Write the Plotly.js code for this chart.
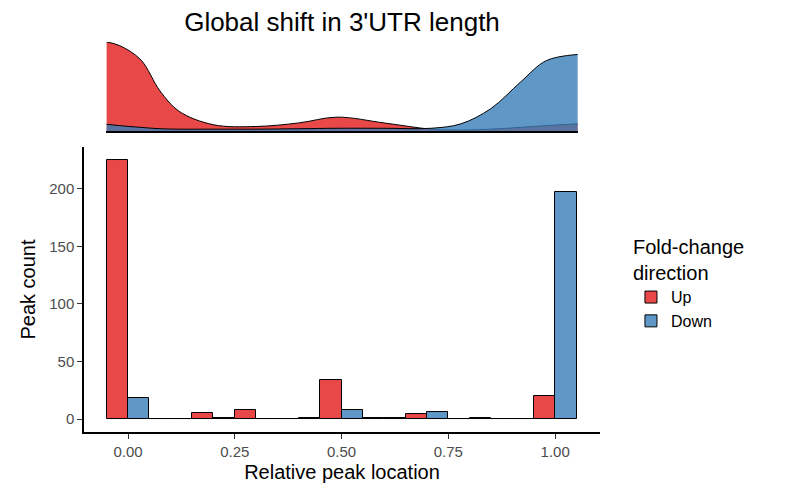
<!DOCTYPE html>
<html>
<head>
<script src="https://cdn.plot.ly/plotly-3.0.1.min.js"></script>
<style>body{margin:0}</style>
</head>
<body>
<div id="chart" style="width:800px;height:500px"></div>
<script>
  // histogram bins (centres) and counts
  const binCenters = [0, 0.1, 0.2, 0.3, 0.4, 0.5, 0.6, 0.7, 0.8, 0.9, 1.0];
  const upCounts   = [225, 0, 5, 8, 0, 34, 1, 4, 0, 0, 20];
  const downCounts = [18, 0, 1, 0, 1, 8, 1, 6, 1, 0, 197];

  // density curves (relative height)
  const densX    = [-0.05, -0.02, 0.03, 0.075, 0.12, 0.2, 0.3, 0.4, 0.49, 0.6, 0.71, 0.78, 0.85, 0.92, 0.98, 1.054];
  const densUp   = [1.0, 0.96, 0.8, 0.45, 0.22, 0.07, 0.05, 0.09, 0.155, 0.09, 0.02, 0.01, 0.02, 0.04, 0.06, 0.08];
  const densDown = [0.075, 0.06, 0.04, 0.025, 0.02, 0.02, 0.02, 0.025, 0.03, 0.03, 0.03, 0.08, 0.25, 0.55, 0.79, 0.86];

  const red = 'rgba(228,26,28,0.8)';
  const blue = 'rgba(55,126,184,0.8)';

  const data = [
    {x: binCenters, y: upCounts, type: 'bar', name: 'Up', offsetgroup: 'up',
     marker: {color: red, line: {color: 'black', width: 1}}},
    {x: binCenters, y: downCounts, type: 'bar', name: 'Down', offsetgroup: 'down',
     marker: {color: blue, line: {color: 'black', width: 1}}},
    {x: densX, y: densUp, xaxis: 'x2', yaxis: 'y2', type: 'scatter', mode: 'lines',
     fill: 'tozeroy', fillcolor: red, line: {color: 'black', width: 1, shape: 'spline', smoothing: 1},
     showlegend: false, hoverinfo: 'skip'},
    {x: densX, y: densDown, xaxis: 'x2', yaxis: 'y2', type: 'scatter', mode: 'lines',
     fill: 'tozeroy', fillcolor: blue, line: {color: 'black', width: 1, shape: 'spline', smoothing: 1},
     showlegend: false, hoverinfo: 'skip'}
  ];

  const tickFont = {family: 'Liberation Sans, Arial, sans-serif', size: 15, color: '#4d4d4d'};
  const layout = {
    width: 800, height: 500,
    margin: {l: 84, r: 200, t: 40, b: 68},
    paper_bgcolor: 'white', plot_bgcolor: 'white',
    font: {family: 'Liberation Sans, Arial, sans-serif', color: 'black'},
    title: {text: "Global shift in 3'UTR length", x: 0.5, xref: 'paper', y: 0.975, yref: 'container',
            font: {size: 26, color: 'black'}},
    barmode: 'group', bargap: 0, bargroupgap: 0,
    xaxis: {domain: [0, 1], range: [-0.103, 1.105], tickvals: [0, 0.25, 0.5, 0.75, 1],
            ticktext: ['0.00', '0.25', '0.50', '0.75', '1.00'], showgrid: false, zeroline: false,
            showline: true, linecolor: 'black', linewidth: 1.5, ticks: 'outside', ticklen: 5,
            tickcolor: '#333', tickfont: tickFont,
            title: {text: 'Relative peak location', font: {size: 20}, standoff: 6}},
    yaxis: {domain: [0, 0.727], range: [-11.3, 236.5], tickvals: [0, 50, 100, 150, 200],
            showgrid: false, zeroline: false, showline: true, linecolor: 'black', linewidth: 1.5,
            ticks: 'outside', ticklen: 5, tickcolor: '#333', tickfont: tickFont,
            title: {text: 'Peak count', font: {size: 20}, standoff: 8}},
    xaxis2: {domain: [0.0426, 0.957], range: [-0.0515, 1.054], anchor: 'y2', showgrid: false,
             zeroline: false, showticklabels: false, showline: true, linecolor: 'black', linewidth: 1.5},
    yaxis2: {domain: [0.768, 0.995], range: [0, 1.0], anchor: 'x2', showgrid: false,
             zeroline: false, showticklabels: false, showline: false},
    legend: {x: 1.06, y: 0.52, xanchor: 'left', yanchor: 'top', tracegroupgap: 0,
             title: {text: 'Fold-change<br>direction', font: {size: 20}},
             font: {size: 16}}
  };

  Plotly.newPlot('chart', data, layout, {displayModeBar: false});
</script>
</body>
</html>
